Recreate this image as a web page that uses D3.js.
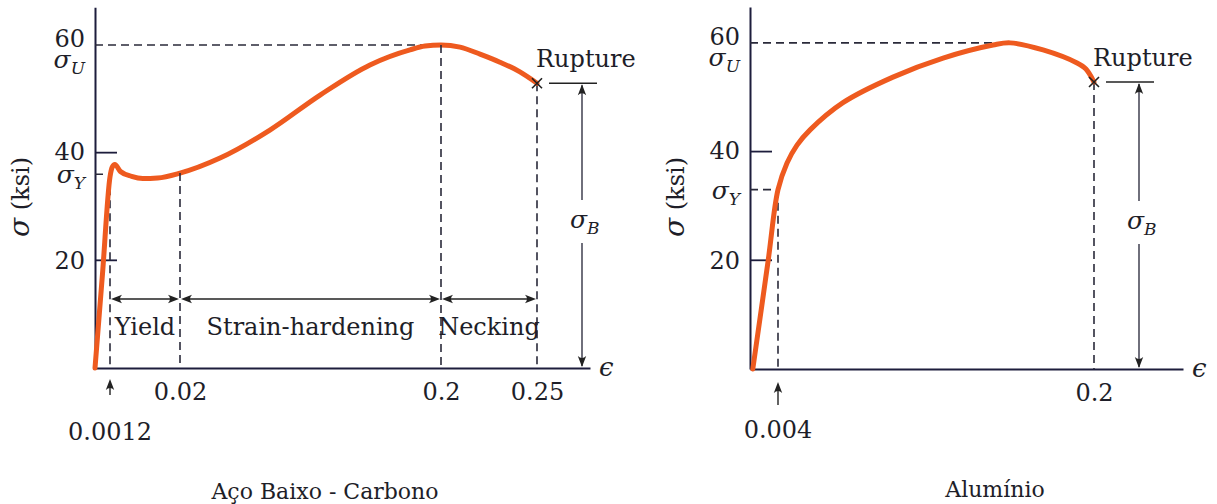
<!DOCTYPE html>
<html lang="pt">
<head>
<meta charset="UTF-8">
<title>Tensão x Deformação</title>
<script src="https://d3js.org/d3.v7.min.js"></script>
<style>
  body { margin: 0; background: #fff; }
  text { font-family: "DejaVu Serif", "Noto Serif", "Liberation Serif", "Times New Roman", serif; fill: #1e1e28; }
</style>
</head>
<body>
<script>
// ---- data (strain, stress in ksi) ----
const steelStrain = [0, 0.0006, 0.0012, 0.0018, 0.0025, 0.004, 0.007, 0.010, 0.014, 0.02,
                     0.0476, 0.082, 0.1166, 0.151, 0.1786, 0.189, 0.2,
                     0.2099, 0.2203, 0.2307, 0.2411, 0.25];
const steelStress = [0, 17.5, 35.5, 37.3, 37.8, 36.5, 35.6, 35.2, 35.3, 36.2,
                     39.0, 44.2, 50.7, 56.3, 59.1, 59.8, 60.0,
                     59.6, 58.3, 56.8, 55.0, 52.9];

const aluStrain = [0.0004, 0.0026, 0.004, 0.0096, 0.0158, 0.0239, 0.0443, 0.0753, 0.1064, 0.1374,
                   0.148, 0.1684, 0.1895, 0.195, 0.2];
const aluStress = [0, 20, 33, 37.9, 41.2, 44.0, 49.0, 53.7, 57.2, 59.6,
                   60.0, 58.7, 56.3, 55.2, 52.8];

const stressTicks = [20, 40, 60];
const steelStrainTicks = [0.02, 0.2, 0.25];
const aluStrainTicks = [0.2];

// yield / ultimate / rupture  [strain, stress]
const steelYield = [0.0012, 36];
const steelUltimate = [0.2, 60];
const steelRupture = [0.25, 52.9];
const aluYield = [0.004, 33];
const aluUltimate = [0.148, 60];
const aluRupture = [0.2, 52.8];

const steelRegionBounds = [0.0012, 0.02, 0.2, 0.25];
const steelRegionNames = ["Yield", "Strain-hardening", "Necking"];

const titles = ["Aço Baixo - Carbono", "Alumínio"];

// ---- layout ----
const svg = d3.select("body").append("svg")
  .attr("width", 1217).attr("height", 504);

const orange = "#ee5a1f";
const axisColor = "#1d1d3c";
const ink = "#222";
const FS = 24;

// polylinear scales: the original figure is not drawn to scale on the strain axis
const xL = d3.scaleLinear().domain([0, 0.0012, 0.02, 0.2, 0.25, 0.2776]).range([95, 110, 180, 441, 537, 590]);
const yL = d3.scaleLinear().domain([0, 67]).range([368, 7.3]);
const xR = d3.scaleLinear().domain([0, 0.004, 0.2, 0.255]).range([750, 778, 1094, 1183]);
const yR = d3.scaleLinear().domain([0, 66.6]).range([369, 7]);

function arrowHead(g, x, y, angle) {
  g.append("path")
    .attr("d", "M0,0 L-11,-4.2 Q-7,0 -11,4.2 Z")
    .attr("transform", `translate(${x},${y}) rotate(${angle})`)
    .attr("fill", ink);
}

function dashed(g, x1, y1, x2, y2) {
  g.append("line")
    .attr("x1", x1).attr("y1", y1).attr("x2", x2).attr("y2", y2)
    .attr("stroke", "#2a2a3a").attr("stroke-width", 1.6)
    .attr("stroke-dasharray", "8,5");
}

function sigma(g, x, y, sub, anchor) {
  const t = g.append("text").attr("x", x).attr("y", y)
    .attr("text-anchor", anchor).attr("font-size", 25);
  t.append("tspan").attr("font-style", "italic").text("σ");
  t.append("tspan").attr("font-style", "italic").attr("font-size", 17)
    .attr("dy", 6).text(sub);
  return t;
}

function panel(opts) {
  const { x, y, strain, stress, strainTicks, yieldPt, ultPt, rupPt, title, titleX, titleY, curve } = opts;
  const g = svg.append("g");
  const x0 = x.range()[0], y0 = y(0);
  const xEnd = x.range()[x.range().length - 1];

  // y axis (labels + domain line)
  const ya = g.append("g").attr("transform", `translate(${x0},0)`)
    .call(d3.axisLeft(y).tickValues(stressTicks).tickSize(0).tickSizeOuter(0).tickPadding(10)
      .tickFormat(d3.format("d")));
  ya.attr("font-family", null);
  ya.select(".domain").attr("stroke", axisColor).attr("stroke-width", 2);
  ya.selectAll(".tick text").attr("font-size", FS).attr("fill", "#1e1e28")
    .attr("dy", d => d === 60 ? "0.06em" : d === 40 ? "0.3em" : "0.36em");

  // inner tick marks for 20 and 40
  g.selectAll(".itick").data(stressTicks.filter(d => d < 60)).join("line")
    .attr("x1", x0).attr("x2", x0 + 22)
    .attr("y1", d => y(d)).attr("y2", d => y(d))
    .attr("stroke", axisColor).attr("stroke-width", 1.8);

  // x axis
  const xa = g.append("g").attr("transform", `translate(0,${y0})`)
    .call(d3.axisBottom(x).tickValues(strainTicks).tickSize(0).tickSizeOuter(0).tickPadding(15)
      .tickFormat(d => String(d)));
  xa.attr("font-family", null);
  xa.select(".domain").attr("stroke", axisColor).attr("stroke-width", 2);
  xa.selectAll(".tick text").attr("font-size", FS).attr("fill", "#1e1e28");

  g.append("text").attr("x", xEnd + 9).attr("y", y0 + 8)
    .attr("font-size", 26).attr("font-style", "italic").text("ϵ");

  // y label
  const yl = g.append("text")
    .attr("transform", `translate(${x0 - 66},197) rotate(-90)`)
    .attr("text-anchor", "middle").attr("font-size", FS);
  yl.append("tspan").attr("font-style", "italic").attr("font-size", 28).text("σ");
  yl.append("tspan").text(" (ksi)");

  // reference dashed lines
  dashed(g, x0, y(yieldPt[1]), x(yieldPt[0]), y(yieldPt[1]));
  dashed(g, x(yieldPt[0]), y(yieldPt[1]), x(yieldPt[0]), y0);
  dashed(g, x0, y(ultPt[1]), x(ultPt[0]), y(ultPt[1]));
  dashed(g, x(rupPt[0]), y(rupPt[1]), x(rupPt[0]), y0);

  sigma(g, x0 - 10, y(ultPt[1]) + 23, "U", "end");
  sigma(g, x0 - 10, y(yieldPt[1]) + 9, "Y", "end");

  // curve
  const pts = strain.map((e, i) => [e, stress[i]]);
  g.append("path").datum(pts)
    .attr("d", d3.line().x(d => x(d[0])).y(d => y(d[1])).curve(curve))
    .attr("fill", "none").attr("stroke", orange).attr("stroke-width", 5)
    .attr("stroke-linecap", "round").attr("stroke-linejoin", "round");

  // rupture mark
  const rx = x(rupPt[0]), ry = y(rupPt[1]);
  g.append("path").attr("d", `M${rx - 5},${ry - 5}L${rx + 5},${ry + 5}M${rx - 5},${ry + 5}L${rx + 5},${ry - 5}`)
    .attr("stroke", ink).attr("stroke-width", 1.6);
  g.append("text").attr("x", rx - 1).attr("y", ry - 16).attr("font-size", FS).text("Rupture");

  // sigma_B dimension
  g.append("line").attr("x1", rx + 12).attr("x2", rx + 60).attr("y1", ry).attr("y2", ry)
    .attr("stroke", ink).attr("stroke-width", 1.6);
  const ax = rx + 45;
  g.append("line").attr("x1", ax).attr("x2", ax).attr("y1", ry + 2).attr("y2", y0 - 168)
    .attr("stroke", "#333344").attr("stroke-width", 1.4);
  arrowHead(g, ax, ry + 1, -90);
  g.append("line").attr("x1", ax).attr("x2", ax).attr("y1", y0 - 125).attr("y2", y0 - 2)
    .attr("stroke", "#333344").attr("stroke-width", 1.4);
  arrowHead(g, ax, y0 - 1, 90);
  sigma(g, ax - 12, y0 - 140, "B", "start");

  // title
  g.append("text").attr("x", titleX).attr("y", titleY).attr("text-anchor", "middle")
    .attr("font-size", 22).text(title);

  return g;
}

const gL = panel({ x: xL, y: yL, strain: steelStrain, stress: steelStress, strainTicks: steelStrainTicks,
  yieldPt: steelYield, ultPt: steelUltimate, rupPt: steelRupture, curve: d3.curveMonotoneX,
  title: titles[0], titleX: 325, titleY: 499 });

const gR = panel({ x: xR, y: yR, strain: aluStrain, stress: aluStress, strainTicks: aluStrainTicks,
  yieldPt: aluYield, ultPt: aluUltimate, rupPt: aluRupture, curve: d3.curveCatmullRom.alpha(0.5),
  title: titles[1], titleX: 995, titleY: 497 });

// extra dashed verticals on the steel chart (0.02 and 0.2)
const y0L = yL(0);
const s02 = steelStress[steelStrain.indexOf(0.02)];
dashed(gL, xL(0.02), yL(s02), xL(0.02), y0L);
dashed(gL, xL(steelUltimate[0]), yL(steelUltimate[1]), xL(steelUltimate[0]), y0L);

// region arrows
const ra = y0L - 69;
steelRegionNames.forEach((name, i) => {
  const a = xL(steelRegionBounds[i]) + 1, b = xL(steelRegionBounds[i + 1]) - 1;
  gL.append("line").attr("x1", a + 3).attr("x2", b - 3).attr("y1", ra).attr("y2", ra)
    .attr("stroke", ink).attr("stroke-width", 1.5);
  arrowHead(gL, a, ra, 180);
  arrowHead(gL, b, ra, 0);
  gL.append("text").attr("x", (a + b) / 2).attr("y", y0L - 33)
    .attr("text-anchor", "middle").attr("font-size", FS).text(name);
});

// small strain markers with arrows
function strainMark(g, x, y, e, top, bot, labelDy) {
  const px = x(e), y0 = y(0);
  g.append("line").attr("x1", px).attr("x2", px).attr("y1", y0 + top + 3).attr("y2", y0 + bot)
    .attr("stroke", ink).attr("stroke-width", 1.4);
  arrowHead(g, px, y0 + top, -90);
  g.append("text").attr("x", px).attr("y", y0 + labelDy).attr("text-anchor", "middle")
    .attr("font-size", FS).text(String(e));
}
strainMark(gL, xL, yL, steelYield[0], 11, 27, 72);
strainMark(gR, xR, yR, aluYield[0], 13, 36, 69);
</script>
</body>
</html>
